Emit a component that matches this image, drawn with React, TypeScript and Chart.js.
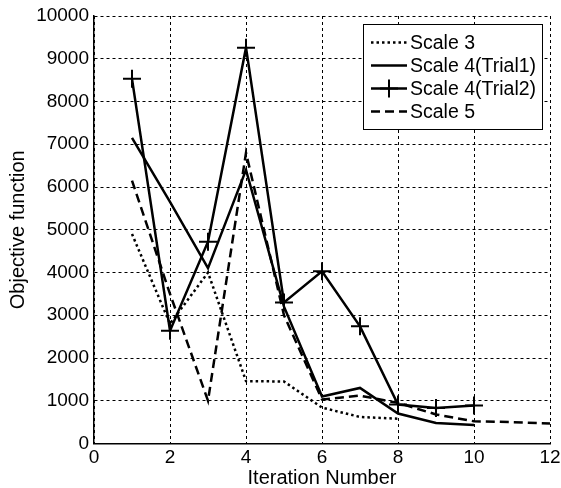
import { useEffect, useRef } from "react";
import { Chart, registerables } from "chart.js";

Chart.register(...registerables);

const iterations = [1, 2, 3, 4, 5, 6, 7, 8, 9, 10, 11, 12];
const seriesNames = ["Scale 3", "Scale 4(Trial1)", "Scale 4(Trial2)", "Scale 5"];
const scale3 = [4900, 2800, 4000, 1460, 1450, 840, 620, 580];
const scale4Trial1 = [7150, 5650, 4100, 6400, 3200, 1100, 1300, 700, 480, 430];
const scale4Trial2 = [8530, 2640, 4720, 9260, 3300, 4030, 2740, 910, 830, 890];
const scale5 = [6150, 3500, 1000, 6800, 3000, 1030, 1120, 950, 680, 520, 500, 470];
const xTicks = [0, 2, 4, 6, 8, 10, 12];
const yTicks = [0, 1000, 2000, 3000, 4000, 5000, 6000, 7000, 8000, 9000, 10000];

const FONT = "'Liberation Sans', Arial, sans-serif";

const toPoints = (vals: number[]) => vals.map((v, i) => ({ x: iterations[i], y: v }));

const styles = [
  { dash: [2.5, 3], width: 2.5, marker: false },
  { dash: [], width: 2.5, marker: false },
  { dash: [], width: 2.5, marker: true },
  { dash: [9, 5], width: 2.5, marker: false },
];

const boxLegend = {
  id: "boxLegend",
  afterDatasetsDraw(chart: any) {
    const { ctx, chartArea } = chart;
    const w = 179;
    const h = 105;
    const x0 = Math.round(chartArea.right - 8 - w);
    const y0 = Math.round(chartArea.top + 8);
    ctx.save();
    ctx.fillStyle = "#fff";
    ctx.fillRect(x0, y0, w, h);
    ctx.strokeStyle = "#000";
    ctx.lineWidth = 1;
    ctx.setLineDash([]);
    ctx.strokeRect(x0 + 0.5, y0 + 0.5, w, h);
    ctx.font = `19.5px ${FONT}`;
    ctx.textBaseline = "middle";
    ctx.textAlign = "left";
    seriesNames.forEach((name, i) => {
      const st = styles[i];
      const cy = y0 + 18.5 + i * 23;
      ctx.beginPath();
      ctx.setLineDash(st.dash);
      ctx.lineWidth = st.width;
      ctx.moveTo(x0 + 8, cy);
      ctx.lineTo(x0 + 44, cy);
      ctx.stroke();
      if (st.marker) {
        ctx.setLineDash([]);
        ctx.lineWidth = 2;
        ctx.beginPath();
        ctx.moveTo(x0 + 26 - 9, cy);
        ctx.lineTo(x0 + 26 + 9, cy);
        ctx.moveTo(x0 + 26, cy - 9);
        ctx.lineTo(x0 + 26, cy + 9);
        ctx.stroke();
      }
      ctx.fillStyle = "#000";
      ctx.fillText(name, x0 + 47, cy + 1);
    });
    ctx.restore();
  },
};

export default function App() {
  const ref = useRef<HTMLCanvasElement | null>(null);

  useEffect(() => {
    document.body.style.margin = "0";
    if (!ref.current) return;
    const allSeries = [scale3, scale4Trial1, scale4Trial2, scale5];
    const chart = new Chart(ref.current, {
      type: "line",
      data: {
        datasets: allSeries.map((vals, i) => ({
          label: seriesNames[i],
          data: toPoints(vals),
          borderColor: "#000",
          backgroundColor: "#000",
          borderWidth: styles[i].width,
          borderDash: styles[i].dash,
          borderCapStyle: "butt",
          fill: false,
          tension: 0,
          pointStyle: "cross",
          pointRadius: styles[i].marker ? 9 : 0,
          pointBorderWidth: 2,
          pointBorderColor: "#000",
          pointHoverRadius: 0,
        })),
      },
      options: {
        animation: false,
        responsive: false,
        maintainAspectRatio: false,
        layout: { padding: { left: 0, top: 16, right: 9, bottom: 0 } },
        plugins: {
          legend: { display: false },
          tooltip: { enabled: false },
        },
        scales: {
          x: {
            type: "linear",
            min: 0,
            max: 12,
            afterBuildTicks: (s: any) => {
              s.ticks = xTicks.map((v) => ({ value: v }));
            },
            ticks: {
              color: "#000",
              font: { family: FONT, size: 19 },
              padding: 3,
              maxRotation: 0,
              callback: (v: any) => String(v),
            },
            grid: { color: "#000", lineWidth: 1, drawTicks: false },
            border: { display: true, color: "#000", width: 1.5, dash: [3, 3] },
            title: {
              display: true,
              text: "Iteration Number",
              color: "#000",
              font: { family: FONT, size: 20 },
              padding: { top: 0, bottom: -2 },
            },
            afterFit: (s: any) => {
              s.height = 44.5;
              s.paddingLeft = 0;
              s.paddingRight = 0;
            },
          },
          y: {
            type: "linear",
            min: 0,
            max: 10000,
            afterBuildTicks: (s: any) => {
              s.ticks = yTicks.map((v) => ({ value: v }));
            },
            ticks: {
              color: "#000",
              font: { family: FONT, size: 19 },
              padding: 5,
              callback: (v: any) => String(v),
            },
            grid: { color: "#000", lineWidth: 1, drawTicks: false },
            border: { display: true, color: "#000", width: 1.5, dash: [3, 3] },
            title: {
              display: true,
              text: "Objective function",
              color: "#000",
              font: { family: FONT, size: 20 },
              padding: { top: 6, bottom: 0 },
            },
            afterFit: (s: any) => {
              s.width = 94;
              s.paddingTop = 0;
              s.paddingBottom = 0;
            },
          },
        },
      },
      plugins: [boxLegend],
    } as any);
    return () => chart.destroy();
  }, []);

  return (
    <div style={{ width: 561, height: 488, background: "#fff" }}>
      <canvas ref={ref} width={561} height={488} style={{ display: "block" }} />
    </div>
  );
}
